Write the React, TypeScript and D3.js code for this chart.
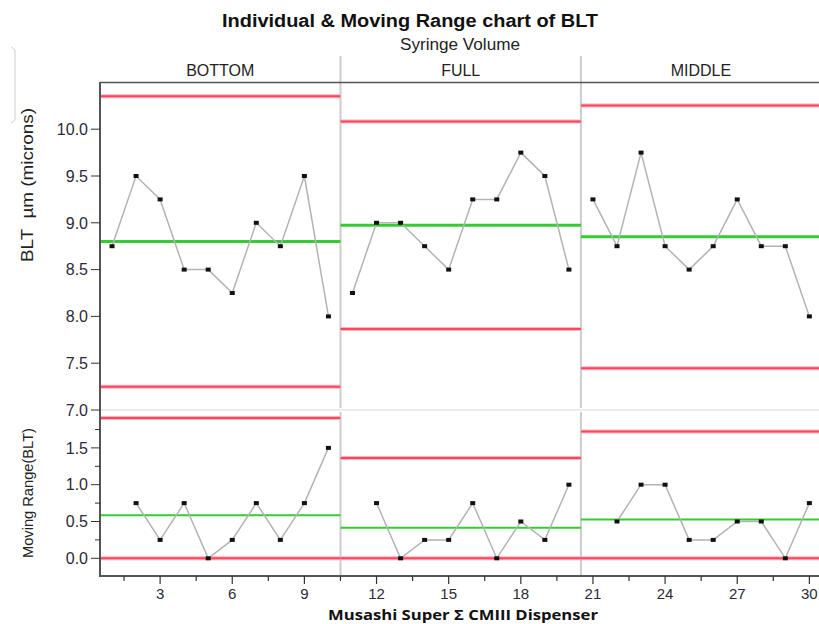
import React from "react";
import * as d3 from "d3";

const groups = ["BOTTOM", "FULL", "MIDDLE"];
const bottomValues = [8.75, 9.5, 9.25, 8.5, 8.5, 8.25, 9.0, 8.75, 9.5, 8.0];
const fullValues = [8.25, 9.0, 9.0, 8.75, 8.5, 9.25, 9.25, 9.75, 9.5, 8.5];
const middleValues = [9.25, 8.75, 9.75, 8.75, 8.5, 8.75, 9.25, 8.75, 8.75, 8.0];
const groupValues = [bottomValues, fullValues, middleValues];
const topTicks = [7.0, 7.5, 8.0, 8.5, 9.0, 9.5, 10.0];
const mrTicks = [0.0, 0.5, 1.0, 1.5];
const mrMinorTicks = [0.25, 0.75, 1.25, 1.75];
const xTicks = [3, 6, 9, 12, 15, 18, 21, 24, 27, 30];

const W = 819;
const H = 624;
const FONT = "'Liberation Sans', Arial, sans-serif";
const RED = "#ff4560";
const PINK = "#ffb3bd";
const GREEN = "#33cc33";

export default function App() {
  const x = d3.scaleLinear().domain([0.5, 30.5]).range([100, 821.4]);
  const yTop = d3.scaleLinear().domain([7, 10.5]).range([410, 82.4]);
  const yMR = d3.scaleLinear().domain([0, 1.5]).range([558.3, 447.9]);

  const groupsData = groupValues.map((vals, gi) => {
    const start = gi * vals.length + 1;
    const pts = vals.map((v, i) => ({ n: start + i, v }));
    const mr = vals.slice(1).map((v, i) => ({ n: start + i + 1, v: Math.abs(v - vals[i]) }));
    const mean = d3.mean(vals) as number;
    const mrBar = d3.mean(mr, (d) => d.v) as number;
    return {
      name: groups[gi],
      x0: start - 0.5,
      x1: start + vals.length - 0.5,
      pts,
      mr,
      mean,
      ucl: mean + 2.66 * mrBar,
      lcl: mean - 2.66 * mrBar,
      mrBar,
      mrUcl: 3.267 * mrBar,
    };
  });

  const lineTop = d3
    .line<{ n: number; v: number }>()
    .x((d) => x(d.n))
    .y((d) => yTop(d.v));
  const lineMR = d3
    .line<{ n: number; v: number }>()
    .x((d) => x(d.n))
    .y((d) => yMR(d.v));

  const xMinor = d3.range(1.5, 30.5, 1.5).filter((t) => t % 3 !== 0);

  const redLine = (key: string, x0: number, x1: number, y: number) => (
    <g key={key}>
      <line x1={x0} x2={x1} y1={y} y2={y} stroke={PINK} strokeWidth={4} />
      <line x1={x0} x2={x1} y1={y} y2={y} stroke={RED} strokeWidth={2} />
    </g>
  );

  return (
    <svg
      width={W}
      height={H}
      style={{ position: "absolute", left: 0, top: 0, background: "#fff" }}
      fontFamily={FONT}
    >
      <rect x={0} y={0} width={W} height={H} fill="#fff" />
      {/* faint bracket on the left */}
      <path d="M11,47 L15,50 L15,120 L11,123" fill="none" stroke="#cfcfcf" strokeWidth={1} />

      {/* titles */}
      <text x={410} y={27} textAnchor="middle" fontSize={18} fontWeight="bold" fill="#111"
        textLength={376} lengthAdjust="spacingAndGlyphs">
        Individual &amp; Moving Range chart of BLT
      </text>
      <text x={460} y={50} textAnchor="middle" fontSize={16} fill="#222"
        textLength={120} lengthAdjust="spacingAndGlyphs">
        Syringe Volume
      </text>
      {groupsData.map((g) => (
        <text
          key={g.name}
          x={(x(g.x0) + Math.min(x(g.x1), 821)) / 2}
          y={76}
          textAnchor="middle"
          fontSize={16}
          fill="#222"
        >
          {g.name}
        </text>
      ))}

      {/* separators */}
      <line x1={100} x2={W} y1={410} y2={410} stroke="#e4e4e4" strokeWidth={1.5} />
      {groupsData.slice(1).map((g) => (
        <g key={"sep" + g.name}>
          <line x1={x(g.x0)} x2={x(g.x0)} y1={56} y2={408} stroke="#cccccc" strokeWidth={2} />
          <line x1={x(g.x0)} x2={x(g.x0)} y1={412} y2={576} stroke="#cccccc" strokeWidth={2} />
        </g>
      ))}

      {/* control lines top */}
      {groupsData.map((g) => (
        <g key={"cl" + g.name}>
          {redLine("u" + g.name, x(g.x0), x(g.x1), yTop(g.ucl))}
          {redLine("l" + g.name, x(g.x0), x(g.x1), yTop(g.lcl))}
          <line x1={x(g.x0)} x2={x(g.x1)} y1={yTop(g.mean)} y2={yTop(g.mean)} stroke={GREEN} strokeWidth={3} />
        </g>
      ))}

      {/* control lines MR */}
      {groupsData.map((g) => (
        <g key={"mcl" + g.name}>
          {redLine("mu" + g.name, x(g.x0), x(g.x1), yMR(g.mrUcl))}
          {redLine("ml" + g.name, x(g.x0), x(g.x1), yMR(0))}
          <line x1={x(g.x0)} x2={x(g.x1)} y1={yMR(g.mrBar)} y2={yMR(g.mrBar)} stroke={GREEN} strokeWidth={2} />
        </g>
      ))}

      {/* data */}
      {groupsData.map((g) => (
        <g key={"d" + g.name}>
          <path d={lineTop(g.pts) || ""} fill="none" stroke="#b3b3b3" strokeWidth={1.5} />
          {g.pts.map((p) => (
            <rect key={p.n} x={x(p.n) - 2.5} y={yTop(p.v) - 2} width={5} height={4} fill="#111" />
          ))}
          <path d={lineMR(g.mr) || ""} fill="none" stroke="#b3b3b3" strokeWidth={1.5} />
          {g.mr.map((p) => (
            <rect key={p.n} x={x(p.n) - 2.5} y={yMR(p.v) - 2} width={5} height={4} fill="#111" />
          ))}
        </g>
      ))}

      {/* frame */}
      <line x1={100} x2={W} y1={82.5} y2={82.5} stroke="#555" strokeWidth={1.5} />
      <line x1={100} x2={100} y1={82} y2={577} stroke="#555" strokeWidth={2} />
      <line x1={99} x2={W} y1={576} y2={576} stroke="#555" strokeWidth={2} />

      {/* y axis top */}
      {topTicks.map((t) => (
        <g key={"yt" + t}>
          <line x1={91} x2={100} y1={yTop(t)} y2={yTop(t)} stroke="#333" strokeWidth={1} />
          <text x={88} y={yTop(t)} dy="0.36em" textAnchor="end" fontSize={16} fill="#2a2a3a">
            {d3.format(".1f")(t)}
          </text>
        </g>
      ))}
      {/* y axis MR */}
      {mrTicks.map((t) => (
        <g key={"ym" + t}>
          <line x1={91} x2={100} y1={yMR(t)} y2={yMR(t)} stroke="#333" strokeWidth={1} />
          <text x={88} y={yMR(t)} dy="0.36em" textAnchor="end" fontSize={16} fill="#2a2a3a">
            {d3.format(".1f")(t)}
          </text>
        </g>
      ))}
      {mrMinorTicks.map((t) => (
        <line key={"ymm" + t} x1={95} x2={100} y1={yMR(t)} y2={yMR(t)} stroke="#333" strokeWidth={1} />
      ))}

      {/* x axis */}
      {xTicks.map((t) => (
        <g key={"xt" + t}>
          <line x1={x(t)} x2={x(t)} y1={576} y2={584} stroke="#333" strokeWidth={1.2} />
          <text x={x(t)} y={599} textAnchor="middle" fontSize={15} fill="#2a2a3a">
            {t}
          </text>
        </g>
      ))}
      {xMinor.map((t) => (
        <line key={"xm" + t} x1={x(t)} x2={x(t)} y1={576} y2={581} stroke="#333" strokeWidth={1.2} />
      ))}

      {/* axis titles */}
      <text
        x={463}
        y={620}
        textAnchor="middle"
        fontSize={14}
        fontWeight="bold"
        fontFamily="'Open Sans', sans-serif"
        fill="#111"
        textLength={270}
        lengthAdjust="spacingAndGlyphs"
      >
        Musashi Super Σ CMIII Dispenser
      </text>
      <text
        transform="translate(33,185) rotate(-90)"
        textAnchor="middle"
        fontSize={16}
        fill="#222"
        style={{ whiteSpace: "pre" }}
        textLength={154}
        lengthAdjust="spacingAndGlyphs"
      >
        {"BLT  µm (microns)"}
      </text>
      <text
        transform="translate(33,493) rotate(-90)"
        textAnchor="middle"
        fontSize={14}
        fill="#222"
        textLength={130}
        lengthAdjust="spacingAndGlyphs"
      >
        Moving Range(BLT)
      </text>
    </svg>
  );
}
